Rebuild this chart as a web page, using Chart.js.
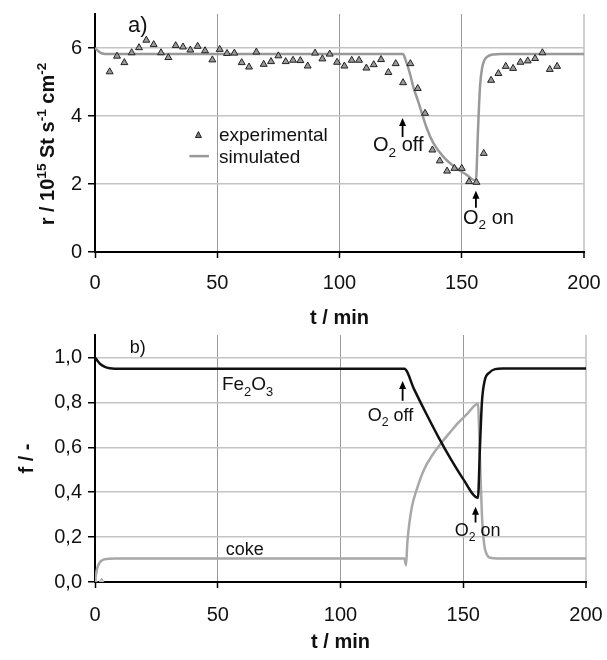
<!DOCTYPE html>
<html>
<head>
<meta charset="utf-8">
<script src="https://cdn.jsdelivr.net/npm/chart.js@4"></script>
<style>
  html, body { margin: 0; padding: 0; background: #fff; }
  #wrap { position: relative; width: 607px; height: 660px; }
  .box { position: absolute; left: 0; width: 607px; height: 330px; }
  #top { top: 0; }
  #bot { top: 330px; }
</style>
</head>
<body>
<div id="wrap">
  <div class="box" id="top"><canvas id="chartA"></canvas></div>
  <div class="box" id="bot"><canvas id="chartB"></canvas></div>
</div>
<script>
// ---- Data ----

// a) experimental rate, one point every ~3 min
const expT = [6, 9, 12, 15, 18, 21, 24, 27, 30, 33, 36, 39, 42, 45, 48, 51, 54, 57, 60, 63,
  66, 69, 72, 75, 78, 81, 84, 87, 90, 93, 96, 99, 102, 105, 108, 111, 114, 117, 120, 123,
  126, 129, 132, 135, 138, 141, 144, 147, 150, 153, 156, 159, 162, 165, 168, 171, 174, 177,
  180, 183, 186, 189];
const expR = [5.30, 5.76, 5.57, 5.86, 6.01, 6.23, 6.10, 5.86, 5.72, 6.07, 6.03, 5.94, 6.05, 5.92,
  5.65, 5.96, 5.84, 5.85, 5.57, 5.44, 5.88, 5.52, 5.60, 5.77, 5.60, 5.64, 5.63, 5.47, 5.85, 5.68,
  5.82, 5.58, 5.47, 5.64, 5.64, 5.41, 5.51, 5.66, 5.28, 5.54, 4.98, 5.54, 4.81, 4.08, 3.00, 2.68,
  2.38, 2.46, 2.46, 2.07, 2.05, 2.90, 5.05, 5.25, 5.46, 5.40, 5.58, 5.62, 5.69, 5.86, 5.37, 5.46];

// a) simulated rate
const simT = [0, 1, 2, 3, 5, 8, 126, 127, 128.8, 130.2, 132, 135.7, 138.4, 142.5, 147.9, 152,
  155.8, 156.6, 157.5, 158.3, 159.3, 161, 163, 166, 200];
const simR = [6.00, 5.93, 5.87, 5.84, 5.82, 5.82, 5.82, 5.65, 5.25, 4.85, 4.47, 3.64, 3.20, 2.80,
  2.46, 2.27, 2.10, 3.50, 4.90, 5.40, 5.65, 5.77, 5.81, 5.82, 5.82];

// b) Fe2O3 fraction
const feT = [0, 1, 2, 4, 6, 8, 126, 130, 135, 140, 145, 150, 156, 156.8, 157.6, 158.7,
  160.8, 163, 166, 200];
const feF = [1.000, 0.985, 0.972, 0.958, 0.952, 0.950, 0.950, 0.858, 0.748, 0.643, 0.546, 0.458,
  0.375, 0.600, 0.800, 0.895, 0.934, 0.948, 0.951, 0.951];

// b) coke fraction
const cokeT = [0, 0.5, 1, 2, 3, 4, 6, 8, 126, 126.7, 127.2, 127.6, 129, 131, 134, 137.7, 141.1,
  144.5, 148, 151.3, 156, 156.8, 157.6, 158.5, 159.5, 161, 164, 200];
const cokeF = [0.000, 0.040, 0.065, 0.088, 0.097, 0.101, 0.104, 0.105, 0.105, 0.075, 0.170, 0.220,
  0.330, 0.410, 0.500, 0.570, 0.620, 0.665, 0.710, 0.745, 0.794, 0.550, 0.300, 0.170, 0.125,
  0.108, 0.105, 0.105];

// b) stray markers at the origin
const startT = [0, 2.7];
const startF = [0, 0];

const xTicks = [0, 50, 100, 150, 200];

// ---- Helpers ----

const FONT = '"Liberation Sans", Arial, Helvetica, sans-serif';

function pts(xs, ys) { return xs.map((x, i) => ({ x, y: ys[i] })); }

function comma(v) { return v.toFixed(1).replace('.', ','); }

// text with sub/superscript pieces
function drawRich(ctx, parts, x, y, size, weight) {
  let cx = x;
  parts.forEach(p => {
    const fs = p.s ? size * 0.68 : size;
    ctx.font = `${weight} ${fs}px ${FONT}`;
    const dy = p.s === 'sub' ? size * 0.28 : p.s === 'sup' ? -size * 0.42 : 0;
    ctx.fillText(p.t, cx, y + dy);
    cx += ctx.measureText(p.t).width;
  });
  return cx - x;
}

function richWidth(ctx, parts, size, weight) {
  let w = 0;
  parts.forEach(p => {
    ctx.font = `${weight} ${p.s ? size * 0.68 : size}px ${FONT}`;
    w += ctx.measureText(p.t).width;
  });
  return w;
}

function arrow(ctx, x, yTip, yTail) {
  ctx.save();
  ctx.strokeStyle = '#000';
  ctx.fillStyle = '#000';
  ctx.lineWidth = 1.8;
  ctx.beginPath();
  ctx.moveTo(x, yTail);
  ctx.lineTo(x, yTip + 6);
  ctx.stroke();
  ctx.beginPath();
  ctx.moveTo(x, yTip);
  ctx.lineTo(x - 3.5, yTip + 8);
  ctx.lineTo(x + 3.5, yTip + 8);
  ctx.closePath();
  ctx.fill();
  ctx.restore();
}

const O2 = s => [{ t: 'O' }, { t: '2', s: 'sub' }, { t: s }];

// ---- Shared axis setup ----

function xAxis(tickPad, titlePad) {
  return {
    type: 'linear', min: 0, max: 200,
    afterBuildTicks: s => { s.ticks = xTicks.map(v => ({ value: v })); },
    afterFit: s => { s.height = 78; s.paddingLeft = 0; s.paddingRight = 0; },
    border: { color: '#000', width: 2 },
    grid: {
      color: c => (c.tick && c.tick.value === 200 ? '#cfcfcf' : '#9a9a9a'),
      lineWidth: c => (c.tick && c.tick.value === 200 ? 2 : 1),
      tickColor: '#000', tickLength: 6, tickWidth: 1.5
    },
    ticks: { color: '#111', padding: tickPad, font: { family: FONT, size: 20 } },
    title: { display: true, text: 't / min', color: '#111', padding: { top: 0, bottom: titlePad },
      font: { family: FONT, size: 20, weight: 'bold' } }
  };
}

function yFit(s) { s.width = 95; s.paddingTop = 0; s.paddingBottom = 0; }

function yGrid() {
  return { color: '#c4c4c4', lineWidth: 1.5, tickColor: '#000', tickLength: 7, tickWidth: 1.5 };
}

const base = {
  responsive: true,
  maintainAspectRatio: false,
  animation: false,
  devicePixelRatio: 1,
  plugins: { legend: { display: false }, tooltip: { enabled: false } }
};

// ---- a) rate chart ----

const notesA = {
  id: 'notesA',
  afterDraw(chart) {
    const { ctx } = chart;
    const X = v => chart.scales.x.getPixelForValue(v);
    const Y = v => chart.scales.y.getPixelForValue(v);
    ctx.save();
    ctx.fillStyle = '#111';
    ctx.textBaseline = 'alphabetic';

    ctx.font = `22px ${FONT}`;
    ctx.fillText('a)', X(13.5), Y(6.46));

    // legend
    const tx = X(42.3), ty = Y(3.44);
    ctx.beginPath();
    ctx.moveTo(tx, ty - 3.5); ctx.lineTo(tx - 3, ty + 2.5); ctx.lineTo(tx + 3, ty + 2.5);
    ctx.closePath();
    ctx.fillStyle = '#777'; ctx.fill();
    ctx.strokeStyle = '#222'; ctx.lineWidth = 1; ctx.stroke();
    ctx.strokeStyle = '#999'; ctx.lineWidth = 2.5;
    ctx.beginPath(); ctx.moveTo(X(38.6), Y(2.82)); ctx.lineTo(X(46.6), Y(2.82)); ctx.stroke();
    ctx.fillStyle = '#111';
    ctx.font = `19px ${FONT}`;
    ctx.fillText('experimental', X(50.7), Y(3.26));
    ctx.fillText('simulated', X(50.7), Y(2.62));

    arrow(ctx, X(125.8), Y(3.94), Y(3.38));
    drawRich(ctx, O2(' off'), X(113.7), Y(2.97), 20, 'normal');
    arrow(ctx, X(155.8), Y(1.80), Y(1.30));
    drawRich(ctx, O2(' on'), X(150.5), Y(0.83), 20, 'normal');

    // y title with superscripts, rotated
    const parts = [{ t: 'r / 10' }, { t: '15', s: 'sup' }, { t: ' St s' }, { t: '-1', s: 'sup' },
      { t: ' cm' }, { t: '-2', s: 'sup' }];
    const w = richWidth(ctx, parts, 20, 'bold');
    ctx.translate(54, 144);
    ctx.rotate(-Math.PI / 2);
    drawRich(ctx, parts, -w / 2, 0, 20, 'bold');
    ctx.restore();
  }
};

new Chart(document.getElementById('chartA'), {
  type: 'scatter',
  data: {
    datasets: [
      { label: 'experimental', data: pts(expT, expR), pointStyle: 'triangle', pointRadius: 4,
        backgroundColor: '#9a9a9a', borderColor: '#222', borderWidth: 1, order: 0 },
      { label: 'simulated', data: pts(simT, simR), showLine: true, pointRadius: 0,
        borderColor: '#999', borderWidth: 2.5, cubicInterpolationMode: 'monotone', order: 1 }
    ]
  },
  options: {
    ...base,
    layout: { padding: { top: 14, right: 23, left: 0, bottom: 0 } },
    scales: {
      x: xAxis(13, 0),
      y: {
        min: 0, max: 7,
        afterFit: yFit,
        border: { color: '#000', width: 2 },
        grid: yGrid(),
        ticks: { stepSize: 2, includeBounds: false, color: '#111', padding: 6,
          font: { family: FONT, size: 20 } }
      }
    }
  },
  plugins: [notesA]
});

// ---- b) fraction chart ----

const notesB = {
  id: 'notesB',
  afterDraw(chart) {
    const { ctx } = chart;
    const X = v => chart.scales.x.getPixelForValue(v);
    const Y = v => chart.scales.y.getPixelForValue(v);
    ctx.save();
    ctx.fillStyle = '#111';
    ctx.textBaseline = 'alphabetic';

    ctx.font = `18px ${FONT}`;
    ctx.fillText('b)', X(14.2), Y(1.02));
    drawRich(ctx, [{ t: 'Fe' }, { t: '2', s: 'sub' }, { t: 'O' }, { t: '3', s: 'sub' }], X(51.7), Y(0.853), 19, 'normal');
    ctx.font = `18px ${FONT}`;
    ctx.fillText('coke', X(53.3), Y(0.119));

    arrow(ctx, X(125.3), Y(0.895), Y(0.807));
    drawRich(ctx, O2(' off'), X(111.1), Y(0.715), 18, 'normal');
    arrow(ctx, X(155), Y(0.335), Y(0.265));
    drawRich(ctx, O2(' on'), X(146.5), Y(0.207), 18, 'normal');
    ctx.restore();
  }
};

new Chart(document.getElementById('chartB'), {
  type: 'scatter',
  data: {
    datasets: [
      { label: 'Fe2O3', data: pts(feT, feF), showLine: true, pointRadius: 0,
        borderColor: '#111', borderWidth: 2.5, cubicInterpolationMode: 'monotone', order: 0 },
      { label: 'coke', data: pts(cokeT, cokeF), showLine: true, pointRadius: 0,
        borderColor: '#a8a8a8', borderWidth: 2.5, cubicInterpolationMode: 'monotone', order: 1 },
      { label: 'start', data: pts(startT, startF), pointStyle: 'triangle', pointRadius: 4,
        backgroundColor: '#c8c8c8', borderColor: '#aaa', borderWidth: 1, order: 2 }
    ]
  },
  options: {
    ...base,
    layout: { padding: { top: 0, right: 21, left: 0, bottom: 0 } },
    scales: {
      x: xAxis(15, 6),
      y: {
        min: 0, max: 1.1,
        afterFit: yFit,
        border: { color: '#000', width: 2 },
        grid: yGrid(),
        ticks: { stepSize: 0.2, includeBounds: false, color: '#111', padding: 6,
          font: { family: FONT, size: 20 }, callback: v => comma(v) },
        title: { display: true, text: 'f / -', color: '#111', padding: { top: 15, bottom: 0 },
          font: { family: FONT, size: 20, weight: 'bold' } }
      }
    }
  },
  plugins: [notesB]
});
</script>
</body>
</html>
